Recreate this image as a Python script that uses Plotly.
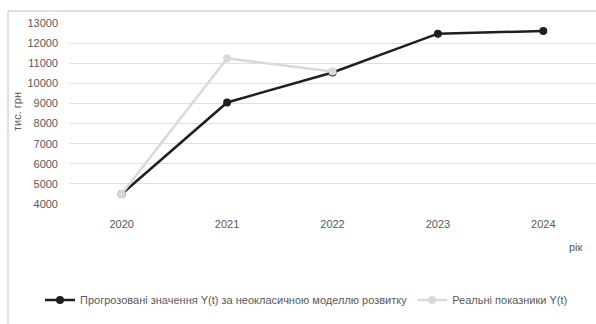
import plotly.graph_objects as go

years = ["2020", "2021", "2022", "2023", "2024"]
forecast = [4500, 9050, 10540, 12470, 12600]
real = [4500, 11240, 10590, None, None]
y_ticks = [4000, 5000, 6000, 7000, 8000, 9000, 10000, 11000, 12000, 13000]
y_tick_text = [str(v) for v in y_ticks]

FONT = "Liberation Sans, Arial, sans-serif"
TXT = "#595959"

fig = go.Figure()
fig.add_trace(go.Scatter(
    x=years, y=forecast, mode="lines+markers",
    name="Прогрозовані значення Y(t) за неокласичною моделлю розвитку",
    line=dict(color="#1f1f1f", width=2.5),
    marker=dict(color="#1f1f1f", size=8),
))
fig.add_trace(go.Scatter(
    x=years, y=real, mode="lines+markers",
    name="Реальні показники Y(t)",
    line=dict(color="#d9d9d9", width=2.5),
    marker=dict(color="#d9d9d9", size=8),
))

PW = 527.0
PH = 181.0

def px_x(p):
    return (p - 69) / PW

def px_y(p):
    return (204 - p) / PH

fig.update_layout(
    width=596, height=324,
    margin=dict(l=69, r=0, t=23, b=120),
    paper_bgcolor="white", plot_bgcolor="white",
    font=dict(family=FONT, size=11, color=TXT),
    showlegend=True,
    legend=dict(orientation="h", x=px_x(40), xanchor="left",
                y=px_y(300), yanchor="middle",
                font=dict(family=FONT, size=11, color=TXT), itemwidth=30,
                traceorder="normal", tracegroupgap=0),
    xaxis=dict(type="category", showgrid=False, showline=False, zeroline=False,
               ticks="", tickfont=dict(family=FONT, size=11, color=TXT),
               range=[-0.5, 4.5], ticklabelstandoff=12),
    yaxis=dict(range=[4000, 13000], tickvals=y_ticks, ticktext=y_tick_text,
               showgrid=True, gridcolor="#e0e0e0", gridwidth=1, zeroline=False,
               showline=False, ticks="", ticklabelstandoff=10,
               tickfont=dict(family=FONT, size=11, color=TXT)),
    shapes=[
        dict(type="rect", xref="paper", yref="paper",
             x0=px_x(8), x1=px_x(700), y0=px_y(400), y1=px_y(11),
             line=dict(color="#c0c0c0", width=1), fillcolor="rgba(0,0,0,0)",
             layer="above"),
    ],
)

fig.add_annotation(text="рік", xref="paper", yref="paper", x=px_x(576), y=px_y(247),
                   xanchor="center", yanchor="middle",
                   showarrow=False, font=dict(family=FONT, size=11, color=TXT))
fig.add_annotation(text="тис. грн", xref="paper", yref="paper", x=px_x(17), y=px_y(112),
                   xanchor="center", yanchor="middle",
                   textangle=-90, showarrow=False,
                   font=dict(family=FONT, size=11, color=TXT))

fig.write_html("out.html")
